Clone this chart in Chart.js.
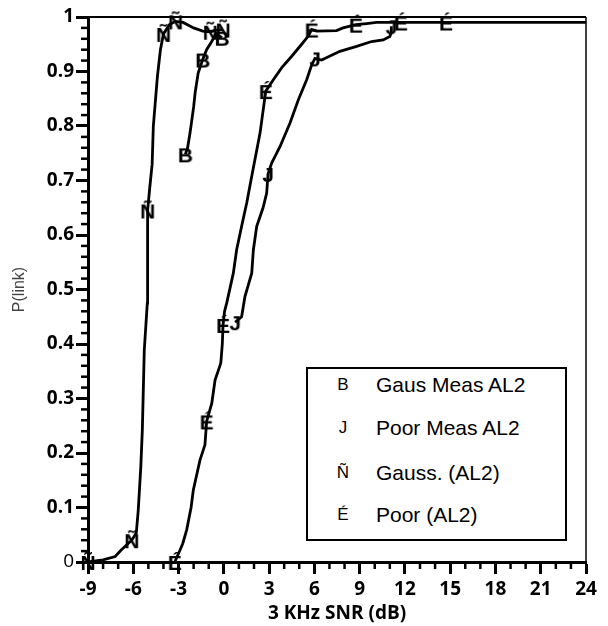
<!DOCTYPE html>
<html>
<head>
<meta charset="utf-8">
<script src="https://cdn.jsdelivr.net/npm/chart.js@4.4.1/dist/chart.umd.min.js"></script>
<style>
  body { margin: 0; background: #fff; }
  #wrap { position: relative; width: 608px; height: 626px; }
  #legend { position: absolute; left: 306px; top: 367px; width: 257px; height: 170px;
            border: 2px solid #000; background: #fff; font-family: 'Liberation Sans', Arial, sans-serif; color: #000; }
  .row { position: absolute; left: 0; width: 100%; height: 30px; line-height: 30px; }
  .mk { position: absolute; left: 27px; width: 16px; text-align: center; font-size: 17px; }
  .lb { position: absolute; left: 68px; font-size: 21px; white-space: nowrap; }
</style>
</head>
<body>
<div id="wrap">
  <canvas id="chart" width="608" height="626"></canvas>
  <div id="legend"></div>
</div>
<script>
// axis ticks
const xMajorTicks = [-9, -6, -3, 0, 3, 6, 9, 12, 15, 18, 21, 24];
const yTickLabels = ['0', '0.1', '0.2', '0.3', '0.4', '0.5', '0.6', '0.7', '0.8', '0.9', '1'];
const xMinorStep = 1;
const yMinorStep = 0.02;

// series
const seriesNames = ['Gaus Meas AL2', 'Poor Meas AL2', 'Gauss. (AL2)', 'Poor (AL2)'];
const seriesGlyphs = ['B', 'J', 'Ñ', 'É'];

const gausMeasX = [-2.55, -2.4, -2.24, -2.1, -2.0, -1.9, -1.7, -1.4, -1.14, -0.8, -0.55, -0.3, -0.12];
const gausMeasY = [0.748, 0.76, 0.787, 0.815, 0.835, 0.861, 0.897, 0.922, 0.94, 0.955, 0.968, 0.965, 0.962];
const gausMeasMarks = [0, 7, 12];

const poorMeasX = [0.75, 1.18, 1.4, 1.85, 1.96, 2.18, 2.6, 2.84, 2.93, 3.17, 3.72, 4.38, 4.94, 5.49, 5.82, 6.04, 6.48, 7.69, 8.8, 9.79, 10.56, 11.0, 11.1, 11.1];
const poorMeasY = [0.44, 0.45, 0.487, 0.53, 0.573, 0.616, 0.65, 0.677, 0.712, 0.732, 0.762, 0.805, 0.848, 0.885, 0.912, 0.924, 0.921, 0.937, 0.946, 0.955, 0.958, 0.964, 0.972, 0.983];
const poorMeasMarks = [0, 8, 15, 23];

const gaussX = [-9, -8.0, -7.2, -6.8, -6.1, -5.8, -5.67, -5.5, -5.4, -5.27, -5.07, -5.05, -5.05, -4.9, -4.75, -4.67, -4.4, -4.2, -4.0, -3.6, -3.2, -2.7, -2.0, -1.4, -0.9, -0.5, -0.05];
const gaussY = [0, 0.004, 0.01, 0.022, 0.04, 0.053, 0.095, 0.175, 0.242, 0.389, 0.475, 0.573, 0.645, 0.689, 0.73, 0.80, 0.891, 0.94, 0.969, 0.986, 0.992, 0.99, 0.98, 0.974, 0.973, 0.976, 0.977];
const gaussMarks = [0, 4, 12, 18, 20, 24, 26];

const poorX = [-3.25, -2.9, -2.72, -2.46, -2.17, -2.02, -1.58, -1.25, -1.14, -0.8, -0.58, -0.2, -0.1, -0.05, 0.05, 0.19, 0.63, 0.85, 1.18, 1.52, 1.85, 2.4, 2.78, 3.28, 3.84, 4.5, 5.16, 5.6, 5.82, 6.15, 7.47, 7.9, 8.75, 9.46, 10.12, 11.73, 14.72, 24];
const poorY = [0, 0.022, 0.034, 0.059, 0.10, 0.132, 0.187, 0.215, 0.258, 0.291, 0.334, 0.365, 0.40, 0.435, 0.46, 0.475, 0.53, 0.573, 0.616, 0.659, 0.708, 0.787, 0.864, 0.885, 0.907, 0.928, 0.95, 0.965, 0.977, 0.974, 0.975, 0.98, 0.986, 0.988, 0.99, 0.99, 0.99, 0.99];
const poorMarks = [0, 8, 13, 22, 28, 32, 35, 36];

const AXIS_FONT = "'Open Sans', 'DejaVu Sans', sans-serif";

function glyphCanvas(ch) {
  const c = document.createElement('canvas');
  c.width = 30;
  c.height = 36;
  const g = c.getContext('2d');
  g.font = "bold 21px 'Liberation Sans'";
  g.textAlign = 'center';
  g.textBaseline = 'alphabetic';
  g.fillStyle = '#000';
  g.fillText(ch, 15, 25.5);
  return c;
}

function makeSet(name, glyph, xs, ys, marks) {
  const img = glyphCanvas(glyph);
  return {
    label: name,
    data: xs.map((x, i) => ({ x, y: ys[i] })),
    borderColor: '#000',
    borderWidth: 2.8,
    tension: 0,
    fill: false,
    clip: false,
    pointStyle: img,
    pointRadius: ctx => marks.includes(ctx.dataIndex) ? 8 : 0
  };
}

function strokeSeg(ctx, x1, y1, x2, y2, w) {
  ctx.lineWidth = w;
  ctx.beginPath();
  ctx.moveTo(x1, y1);
  ctx.lineTo(x2, y2);
  ctx.stroke();
}

// top/right frame plus the short minor tick marks (positions from the scales)
const framePlugin = {
  id: 'frame',
  beforeDatasetsDraw(chart) {
    const ctx = chart.ctx;
    const area = chart.chartArea;
    const sx = chart.scales['x'];
    const sy = chart.scales['y'];
    ctx.save();
    ctx.strokeStyle = '#000';
    ctx.setLineDash([]);
    strokeSeg(ctx, area.left, area.top, area.right, area.top, 2);
    strokeSeg(ctx, area.right, area.top, area.right, area.bottom, 1.5);

    const nx = Math.round((sx.max - sx.min) / xMinorStep);
    for (let i = 1; i < nx; i++) {
      if (i % 3 === 0) continue;
      const px = sx.getPixelForValue(sx.min + i * xMinorStep);
      strokeSeg(ctx, px, area.bottom, px, area.bottom + 7, 2.5);
    }
    const ny = Math.round((sy.max - sy.min) / yMinorStep);
    for (let i = 1; i < ny; i++) {
      if (i % 5 === 0) continue;
      const py = sy.getPixelForValue(sy.min + i * yMinorStep);
      strokeSeg(ctx, area.left - 7, py, area.left, py, 2.5);
    }
    ctx.restore();
  }
};

new Chart(document.getElementById('chart'), {
  type: 'line',
  data: {
    datasets: [
      makeSet(seriesNames[0], seriesGlyphs[0], gausMeasX, gausMeasY, gausMeasMarks),
      makeSet(seriesNames[1], seriesGlyphs[1], poorMeasX, poorMeasY, poorMeasMarks),
      makeSet(seriesNames[2], seriesGlyphs[2], gaussX, gaussY, gaussMarks),
      makeSet(seriesNames[3], seriesGlyphs[3], poorX, poorY, poorMarks)
    ]
  },
  options: {
    responsive: false,
    animation: false,
    events: [],
    layout: { padding: { top: 17, right: 22, left: 0, bottom: 0 } },
    plugins: {
      legend: { display: false },
      tooltip: { enabled: false }
    },
    scales: {
      x: {
        type: 'linear',
        min: -9,
        max: 24,
        afterBuildTicks: scale => {
          scale.ticks = xMajorTicks.map(v => ({ value: v }));
        },
        afterFit: scale => { scale.height = 64; },
        border: { display: true, color: '#000', width: 3 },
        grid: {
          drawOnChartArea: false,
          drawTicks: true,
          tickLength: 12,
          tickColor: '#000',
          tickWidth: 3
        },
        ticks: {
          autoSkip: false,
          maxRotation: 0,
          padding: 4,
          color: '#000',
          font: { family: AXIS_FONT, size: 19, weight: 'bold' },
          callback: v => String(v)
        },
        title: {
          display: true,
          text: '3 KHz SNR (dB)',
          color: '#000',
          font: { family: AXIS_FONT, size: 19, weight: 'bold' },
          padding: { top: 0, bottom: 1 }
        }
      },
      y: {
        type: 'linear',
        min: 0,
        max: 1,
        afterBuildTicks: scale => {
          scale.ticks = yTickLabels.map((s, i) => ({ value: i / 10 }));
        },
        afterFit: scale => { scale.width = 88; },
        border: { display: true, color: '#000', width: 3 },
        grid: {
          drawOnChartArea: false,
          drawTicks: true,
          tickLength: 12,
          tickColor: '#000',
          tickWidth: 3
        },
        ticks: {
          autoSkip: false,
          padding: 2,
          color: '#000',
          font: ctx => ({
            family: AXIS_FONT,
            size: 19,
            weight: ctx.tick && ctx.tick.value === 0 ? 'normal' : 'bold'
          }),
          callback: v => yTickLabels[Math.round(v * 10)]
        },
        title: {
          display: true,
          text: 'P(link)',
          color: '#444',
          font: { family: "'Liberation Sans', Arial, sans-serif", size: 16, weight: 'normal' },
          padding: { top: 10, bottom: 0 }
        }
      }
    }
  },
  plugins: [framePlugin]
});

// legend box inside the plot
const legend = document.getElementById('legend');
const rowCenters = [16, 59, 104, 146];
seriesNames.forEach((name, i) => {
  const row = document.createElement('div');
  row.className = 'row';
  row.style.top = (rowCenters[i] - 15) + 'px';
  row.innerHTML = '<span class="mk">' + seriesGlyphs[i] + '</span><span class="lb">' + name + '</span>';
  legend.appendChild(row);
});
</script>
</body>
</html>
